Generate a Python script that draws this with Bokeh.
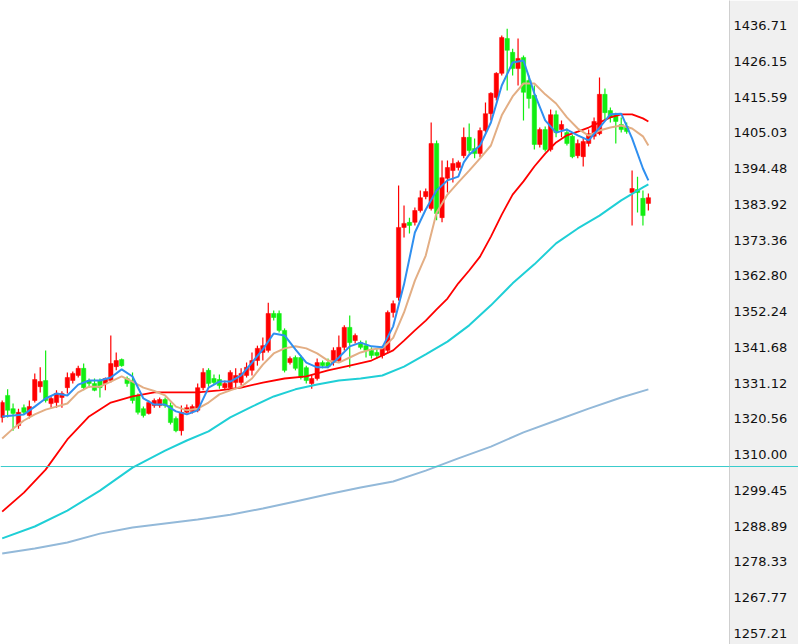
from bokeh.plotting import figure
from bokeh.models import (ColumnDataSource, Range1d, FixedTicker, NumeralTickFormatter,
                          Span)
from bokeh.embed import file_html
from bokeh.resources import INLINE

# ---------------- data ----------------
candle_idx = list(range(120))
opens = [1321.0, 1327.5, 1323.6, 1318.6, 1323.9, 1321.6, 1326.0, 1330.1, 1331.9, 1325.1,
         1325.4, 1326.9, 1329.8, 1331.9, 1333.4, 1335.5, 1331.9, 1331.0, 1331.9, 1331.0,
         1331.9, 1336.0, 1338.1, 1332.5, 1331.9, 1327.5, 1323.6, 1322.2, 1324.5, 1324.5,
         1326.3, 1324.5, 1320.7, 1317.1, 1322.5, 1322.8, 1323.1, 1329.8, 1334.9, 1332.5,
         1332.2, 1329.8, 1329.8, 1331.3, 1331.3, 1333.4, 1334.9, 1337.8, 1340.2, 1340.8,
         1351.7, 1351.7, 1346.7, 1337.2, 1338.7, 1338.7, 1335.7, 1331.0, 1332.5, 1337.2,
         1337.2, 1337.2, 1337.8, 1341.7, 1347.6, 1343.7, 1343.1, 1342.2, 1340.8, 1340.2,
         1339.3, 1340.8, 1352.0, 1356.4, 1377.1, 1378.6, 1378.6, 1382.1, 1386.2, 1382.7,
         1401.9, 1380.0, 1391.6, 1393.9, 1394.8, 1398.3, 1403.7, 1400.4, 1398.9, 1405.7,
         1410.7, 1415.5, 1422.6, 1432.9, 1428.8, 1424.0, 1427.3, 1420.5, 1416.1, 1401.6,
         1406.0, 1400.1, 1410.4, 1406.0, 1405.1, 1404.0, 1398.3, 1398.0, 1401.9, 1404.0,
         1404.8, 1416.4, 1411.6, 1410.4, 1407.5, 1406.9, 1387.4, 1388.3, 1385.7, 1384.2]
highs = [1326.0, 1329.3, 1325.1, 1323.6, 1324.8, 1326.0, 1334.0, 1335.8, 1340.8, 1327.2,
         1329.0, 1328.7, 1334.3, 1334.6, 1336.3, 1336.9, 1332.5, 1332.5, 1332.5, 1332.8,
         1345.2, 1340.2, 1338.4, 1333.1, 1334.3, 1328.1, 1324.2, 1326.0, 1326.6, 1326.9,
         1326.9, 1325.4, 1321.3, 1324.5, 1324.8, 1324.8, 1331.0, 1335.5, 1335.5, 1333.7,
         1333.7, 1331.9, 1334.9, 1335.5, 1335.5, 1337.2, 1340.2, 1342.2, 1344.6, 1354.9,
         1352.6, 1352.6, 1347.3, 1339.0, 1339.3, 1339.3, 1336.3, 1333.7, 1338.4, 1337.8,
         1338.4, 1341.7, 1345.2, 1348.2, 1351.1, 1345.8, 1343.7, 1343.7, 1341.7, 1341.1,
         1342.2, 1352.6, 1355.5, 1389.5, 1383.6, 1380.0, 1383.0, 1388.0, 1388.6, 1408.1,
         1402.8, 1396.9, 1396.9, 1397.5, 1396.9, 1406.6, 1407.8, 1403.4, 1406.6, 1414.0,
         1417.0, 1422.9, 1433.8, 1435.8, 1429.9, 1432.9, 1427.9, 1422.0, 1419.0, 1406.6,
         1406.9, 1411.9, 1411.6, 1408.7, 1406.3, 1404.5, 1403.1, 1403.7, 1406.0, 1409.6,
         1421.4, 1418.1, 1412.5, 1411.0, 1409.6, 1408.1, 1393.9, 1392.1, 1388.0, 1387.1]
lows = [1319.5, 1321.0, 1317.1, 1317.7, 1321.9, 1320.7, 1325.4, 1328.4, 1325.4, 1323.9,
        1323.9, 1323.9, 1328.1, 1331.0, 1332.8, 1329.0, 1329.8, 1328.7, 1326.9, 1329.0,
        1331.3, 1334.9, 1336.0, 1330.1, 1325.1, 1321.9, 1321.0, 1321.9, 1323.9, 1323.9,
        1323.9, 1318.9, 1316.6, 1315.7, 1322.2, 1322.2, 1322.5, 1329.0, 1330.1, 1330.7,
        1329.5, 1329.3, 1329.3, 1329.5, 1330.4, 1332.8, 1333.4, 1336.3, 1337.8, 1340.2,
        1349.6, 1346.1, 1334.3, 1336.6, 1334.9, 1332.2, 1331.0, 1329.5, 1331.9, 1335.5,
        1335.5, 1336.3, 1337.2, 1340.8, 1335.7, 1342.8, 1341.1, 1338.7, 1338.4, 1338.4,
        1338.4, 1340.2, 1350.5, 1355.5, 1374.1, 1375.3, 1377.7, 1381.5, 1385.4, 1382.1,
        1379.2, 1378.6, 1387.4, 1390.4, 1393.9, 1397.5, 1398.9, 1397.5, 1397.8, 1405.1,
        1408.7, 1414.6, 1422.0, 1417.5, 1422.0, 1419.0, 1408.7, 1412.2, 1400.1, 1400.7,
        1399.5, 1399.5, 1403.7, 1403.7, 1401.3, 1397.5, 1397.5, 1395.1, 1401.0, 1403.1,
        1404.3, 1408.7, 1408.1, 1401.9, 1405.1, 1404.8, 1377.7, 1381.5, 1377.7, 1382.1]
closes = [1325.4, 1323.1, 1322.2, 1322.5, 1322.5, 1324.2, 1332.2, 1331.6, 1326.0, 1326.6,
          1328.1, 1328.1, 1332.8, 1334.0, 1335.5, 1329.8, 1331.0, 1329.0, 1329.8, 1332.5,
          1336.9, 1337.8, 1336.3, 1331.0, 1326.0, 1322.5, 1321.6, 1325.4, 1326.0, 1326.3,
          1324.5, 1319.5, 1317.1, 1322.5, 1323.9, 1324.2, 1329.8, 1334.3, 1331.0, 1331.3,
          1330.4, 1331.0, 1334.3, 1333.4, 1334.0, 1335.8, 1337.8, 1341.4, 1342.2, 1351.7,
          1350.5, 1346.7, 1334.9, 1338.4, 1335.5, 1332.8, 1331.9, 1332.5, 1337.2, 1336.3,
          1336.0, 1340.8, 1341.7, 1347.6, 1343.1, 1345.2, 1341.7, 1340.8, 1339.3, 1339.3,
          1341.7, 1352.0, 1354.6, 1377.1, 1378.3, 1377.7, 1382.1, 1385.9, 1387.7, 1401.9,
          1381.2, 1391.8, 1394.8, 1396.0, 1396.3, 1403.7, 1399.8, 1398.9, 1405.7, 1410.7,
          1416.7, 1422.6, 1433.2, 1429.4, 1424.0, 1427.0, 1417.0, 1415.2, 1401.6, 1406.0,
          1400.1, 1410.4, 1405.1, 1407.5, 1401.9, 1398.0, 1401.9, 1402.5, 1404.8, 1408.4,
          1416.4, 1411.0, 1409.6, 1408.4, 1406.0, 1405.4, 1388.6, 1387.4, 1380.6, 1385.9]

ma5_idx = [0, 2, 4, 6, 8, 10, 12, 14, 16, 18, 20, 22, 24, 26, 28, 30, 32, 34, 36, 38,
           40, 42, 44, 46, 48, 50, 52, 54, 56, 58, 60, 62, 64, 66, 68, 70, 72, 74, 76, 78,
           80, 82, 84, 85, 86, 88, 90, 92, 94, 96, 98, 100, 102, 104, 106, 108, 110, 112,
           114, 116, 118, 119]
ma5_val = [1321.3, 1321.6, 1321.9, 1324.2, 1326.6, 1328.1, 1327.5, 1330.7, 1331.9, 1331.9,
           1332.8, 1335.2, 1333.1, 1326.6, 1324.8, 1324.8, 1322.8, 1321.9, 1323.1, 1329.8,
           1331.6, 1331.6, 1333.4, 1337.2, 1341.1, 1345.8, 1345.2, 1341.1, 1337.2, 1335.8,
           1335.8, 1338.7, 1342.0, 1343.1, 1342.0, 1341.7, 1347.9, 1360.3, 1375.6, 1382.4,
           1388.0, 1391.0, 1392.1, 1396.3, 1398.6, 1401.3, 1408.1, 1419.0, 1425.8, 1426.4,
           1416.7, 1408.7, 1405.1, 1406.0, 1404.3, 1402.8, 1406.6, 1410.5, 1410.7, 1403.4,
           1394.5, 1391.0]

ma10_idx = list(range(0, 120, 2)) + [119]
ma10_val = [1314.8, 1317.7, 1320.1, 1321.9, 1323.3, 1324.2, 1325.1, 1328.4, 1330.1, 1330.1,
            1331.6, 1333.1, 1331.6, 1329.8, 1328.8, 1327.5, 1324.2, 1323.1, 1323.6, 1325.4,
            1327.8, 1329.0, 1330.1, 1332.5, 1336.6, 1339.9, 1341.4, 1342.0, 1341.4, 1339.9,
            1337.8, 1337.2, 1338.7, 1340.2, 1341.1, 1341.4, 1344.5, 1352.0, 1361.4, 1368.8,
            1381.5, 1386.8, 1390.4, 1393.9, 1397.5, 1401.3, 1410.2, 1415.8, 1419.6, 1419.6,
            1416.4, 1413.7, 1409.6, 1406.3, 1404.2, 1405.7, 1406.6, 1407.2, 1406.3, 1404.0,
            1401.3]

ma20_idx = [0, 4, 8, 12, 16, 20, 24, 28, 32, 36, 40, 44, 48, 52, 56, 60, 64, 68, 72,
            74, 76, 78, 80, 82, 84, 86, 88, 90, 92, 94, 96, 98, 100, 102, 104, 106, 108,
            110, 112, 114, 116, 118, 119]
ma20_val = [1293.2, 1298.8, 1305.6, 1314.5, 1321.3, 1325.4, 1327.2, 1328.4, 1328.4, 1328.4,
            1329.0, 1329.8, 1331.3, 1332.5, 1333.1, 1334.9, 1336.3, 1337.8, 1340.8,
            1343.7, 1346.7, 1349.6, 1352.9, 1356.1, 1360.6, 1364.4, 1368.5, 1374.4, 1380.9,
            1386.8, 1390.7, 1395.1, 1398.9, 1402.2, 1404.3, 1405.4, 1406.6, 1408.1, 1409.6,
            1410.5, 1410.5, 1409.3, 1408.4]

ma60_idx = [0, 6, 12, 18, 24, 30, 34, 38, 42, 46, 50, 54, 58, 62, 66, 70, 74, 78, 82,
            86, 90, 94, 98, 102, 106, 110, 114, 118, 119]
ma60_val = [1285.3, 1288.8, 1293.5, 1299.4, 1306.2, 1311.2, 1314.2, 1316.9, 1321.0, 1324.2,
            1327.2, 1329.3, 1330.7, 1331.9, 1332.5, 1333.4, 1336.0, 1339.6, 1343.4, 1348.2,
            1354.1, 1360.6, 1366.2, 1372.4, 1376.8, 1380.6, 1385.1, 1388.9, 1389.8]

ma120_idx = [0, 6, 12, 18, 24, 30, 36, 42, 48, 54, 60, 66, 72, 78, 84, 90, 96, 102, 108,
             114, 119]
ma120_val = [1280.8, 1282.3, 1284.1, 1286.7, 1288.5, 1289.7, 1290.9, 1292.3, 1294.1, 1296.2,
             1298.3, 1300.3, 1302.1, 1305.3, 1308.9, 1312.4, 1316.6, 1320.1, 1323.6, 1326.9,
             1329.3]

level_line = 1306.51

tick_values = [1257.21, 1267.77, 1278.33, 1288.89, 1299.45, 1310.00, 1320.56, 1331.12,
               1341.68, 1352.24, 1362.80, 1373.36, 1383.92, 1394.48, 1405.03, 1415.59,
               1426.15, 1436.71]

# ---------------- styling ----------------
UP = "#ff0000"
DOWN = "#11ee11"
LEVEL = "#38cccc"
TICK_RUN = 70

p = figure(frame_width=729, frame_height=644, output_backend="svg", toolbar_location=None,
           x_range=Range1d(-0.313, 133.94), y_range=Range1d(1253.96, 1444.11),
           x_axis_location=None, y_axis_location="right",
           min_border_left=0, min_border_top=0, min_border_bottom=0, min_border_right=69,
           background_fill_color="white", border_fill_color="#f0f0f0",
           outline_line_color=None, tools="")
p.xgrid.visible = False
p.ygrid.visible = False

ax = p.yaxis[0]
# the level line continues across the price panel as a long minor tick
ax.ticker = FixedTicker(ticks=tick_values, minor_ticks=[level_line])
ax.formatter = NumeralTickFormatter(format="0.00")
ax.major_tick_line_color = None
ax.major_tick_out = 0
ax.major_tick_in = 0
ax.minor_tick_line_color = LEVEL
ax.minor_tick_line_width = 1
ax.minor_tick_in = 0
ax.minor_tick_out = TICK_RUN
ax.axis_line_color = "#cfcfcf"
ax.major_label_standoff = 4 - TICK_RUN
ax.major_label_text_font = "DejaVu Sans"
ax.major_label_text_font_size = "13px"
ax.major_label_text_color = "#111111"

# candles
up = [i for i in candle_idx if closes[i] >= opens[i]]
dn = [i for i in candle_idx if closes[i] < opens[i]]


def src(ids):
    return ColumnDataSource(dict(
        x=ids,
        top=[max(opens[i], closes[i]) for i in ids],
        bottom=[min(opens[i], closes[i]) for i in ids],
        high=[highs[i] for i in ids],
        low=[lows[i] for i in ids],
    ))


for ids, col in ((up, UP), (dn, DOWN)):
    s = src(ids)
    p.segment(x0="x", y0="high", x1="x", y1="low", source=s, line_color=col, line_width=1.2)
    p.vbar(x="x", top="top", bottom="bottom", width=0.8, source=s,
           fill_color=col, line_color=col, line_width=0.5)

# moving averages
p.line(ma120_idx, ma120_val, line_color="#93b9d9", line_width=2)
p.line(ma60_idx, ma60_val, line_color="#1fcfd6", line_width=2)
p.line(ma20_idx, ma20_val, line_color="#ff0000", line_width=1.8)
p.line(ma10_idx, ma10_val, line_color="#e3ae84", line_width=2)
p.line(ma5_idx, ma5_val, line_color="#2f8ff0", line_width=2)

# horizontal level line
p.add_layout(Span(location=level_line, dimension="width", line_color=LEVEL, line_width=1))

open("out.html", "w").write(file_html(p, INLINE))
